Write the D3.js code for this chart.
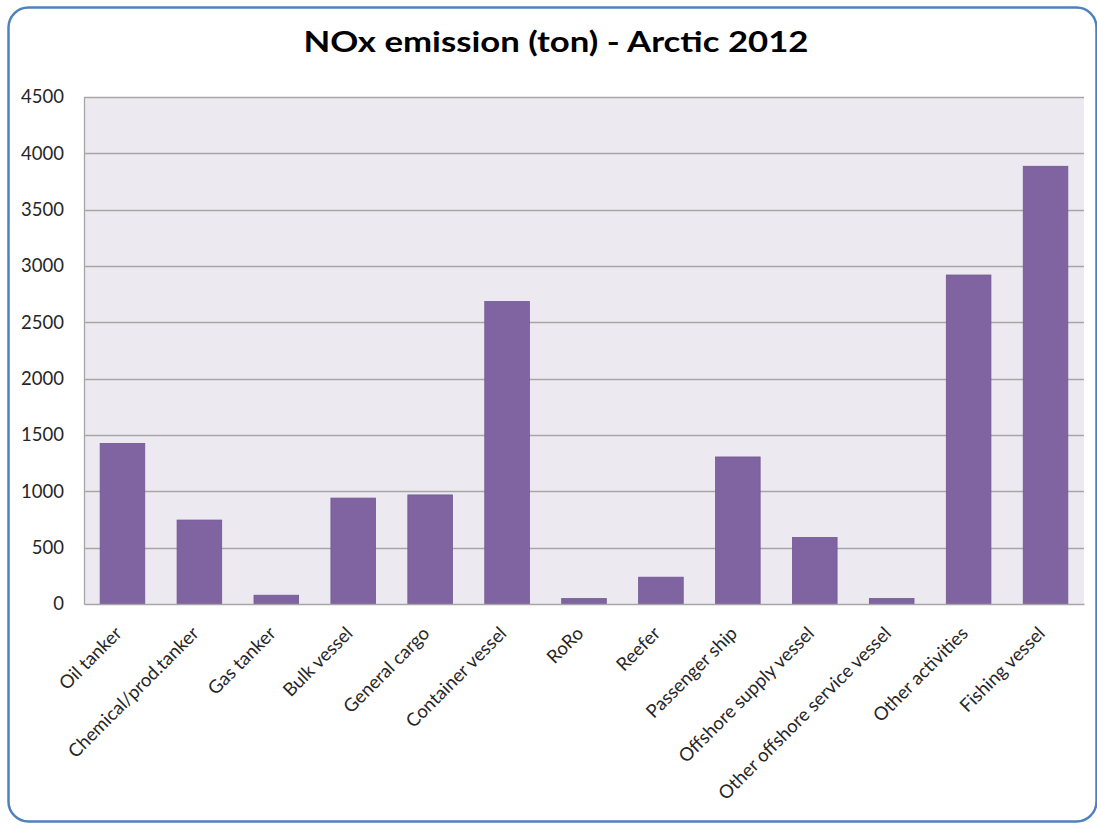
<!DOCTYPE html>
<html>
<head>
<meta charset="utf-8">
<script src="https://cdn.jsdelivr.net/npm/d3@7"></script>
<style>
  html, body { margin: 0; padding: 0; background: #ffffff; }
  svg { display: block; }
</style>
</head>
<body>
<svg id="chart" width="1097" height="824"></svg>
<script>
// Ship categories and NOx emissions in tonnes (Arctic, 2012)
const categories = [
  "Oil tanker", "Chemical/prod.tanker", "Gas tanker", "Bulk vessel",
  "General cargo", "Container vessel", "RoRo", "Reefer", "Passenger ship",
  "Offshore supply vessel", "Other offshore service vessel",
  "Other activities", "Fishing vessel"
];
const noxValues = [1425, 745, 78, 940, 968, 2685, 48, 238, 1305, 590, 48, 2920, 3885];
const yTicks = [0, 500, 1000, 1500, 2000, 2500, 3000, 3500, 4000, 4500];
const chartTitle = "NOx emission (ton) - Arctic 2012";

const svg = d3.select("#chart");
const font = "Lato, 'Open Sans', 'DejaVu Sans', sans-serif";

// Outer rounded frame
svg.append("rect")
  .attr("x", 8.5).attr("y", 7.5)
  .attr("width", 1088).attr("height", 814)
  .attr("rx", 20).attr("ry", 20)
  .attr("fill", "#ffffff")
  .attr("stroke", "#4f81bd")
  .attr("stroke-width", 2.5);

const plot = { left: 84, right: 1084, top: 97, bottom: 604 };

const x = d3.scaleBand()
  .domain(categories)
  .range([plot.left, plot.right])
  .paddingInner(0.42)
  .paddingOuter(0.21);

const y = d3.scaleLinear()
  .domain([0, 4500])
  .range([plot.bottom, plot.top]);

// Plot background
svg.append("rect")
  .attr("x", plot.left).attr("y", plot.top)
  .attr("width", plot.right - plot.left)
  .attr("height", plot.bottom - plot.top)
  .attr("fill", "#ece9f0");

// Horizontal gridlines
svg.append("g")
  .selectAll("line")
  .data(yTicks.filter(d => d > 0))
  .join("line")
  .attr("x1", plot.left).attr("x2", plot.right)
  .attr("y1", d => Math.round(y(d)) + 0.5)
  .attr("y2", d => Math.round(y(d)) + 0.5)
  .attr("stroke", "#a6a6a6")
  .attr("stroke-width", 1.3);

// Bars
svg.append("g")
  .selectAll("rect")
  .data(categories.map((c, i) => ({ c, v: noxValues[i] })))
  .join("rect")
  .attr("x", d => x(d.c))
  .attr("y", d => y(d.v))
  .attr("width", x.bandwidth())
  .attr("height", d => y(0) - y(d.v))
  .attr("fill", "#8064a2")
  .attr("stroke", "#715891")
  .attr("stroke-width", 0.8);

// Y axis
const yAxis = svg.append("g")
  .attr("transform", `translate(${plot.left},0)`)
  .call(d3.axisLeft(y).tickValues(yTicks).tickSize(0).tickPadding(20).tickFormat(d3.format("d")));
yAxis.select(".domain").attr("stroke", "#a6a6a6").attr("stroke-width", 1.3);
yAxis.selectAll("text")
  .attr("font-family", font)
  .attr("font-size", 18.5)
  .attr("fill", "#262626");

// X axis
const xAxis = svg.append("g")
  .attr("transform", `translate(0,${plot.bottom})`)
  .call(d3.axisBottom(x).tickSize(0).tickPadding(0));
xAxis.select(".domain").attr("stroke", "#a6a6a6").attr("stroke-width", 1.3);
xAxis.selectAll("text")
  .attr("font-family", font)
  .attr("font-size", 18.5)
  .attr("fill", "#262626")
  .attr("text-anchor", "end")
  .attr("dy", "0.35em")
  .attr("transform", "translate(-4,26) rotate(-45)");

// Title
svg.append("text")
  .attr("x", 556).attr("y", 52)
  .attr("text-anchor", "middle")
  .attr("font-family", font)
  .attr("font-weight", "bold")
  .attr("font-size", 29)
  .attr("textLength", 505)
  .attr("lengthAdjust", "spacingAndGlyphs")
  .attr("fill", "#000000")
  .text(chartTitle);
</script>
</body>
</html>
